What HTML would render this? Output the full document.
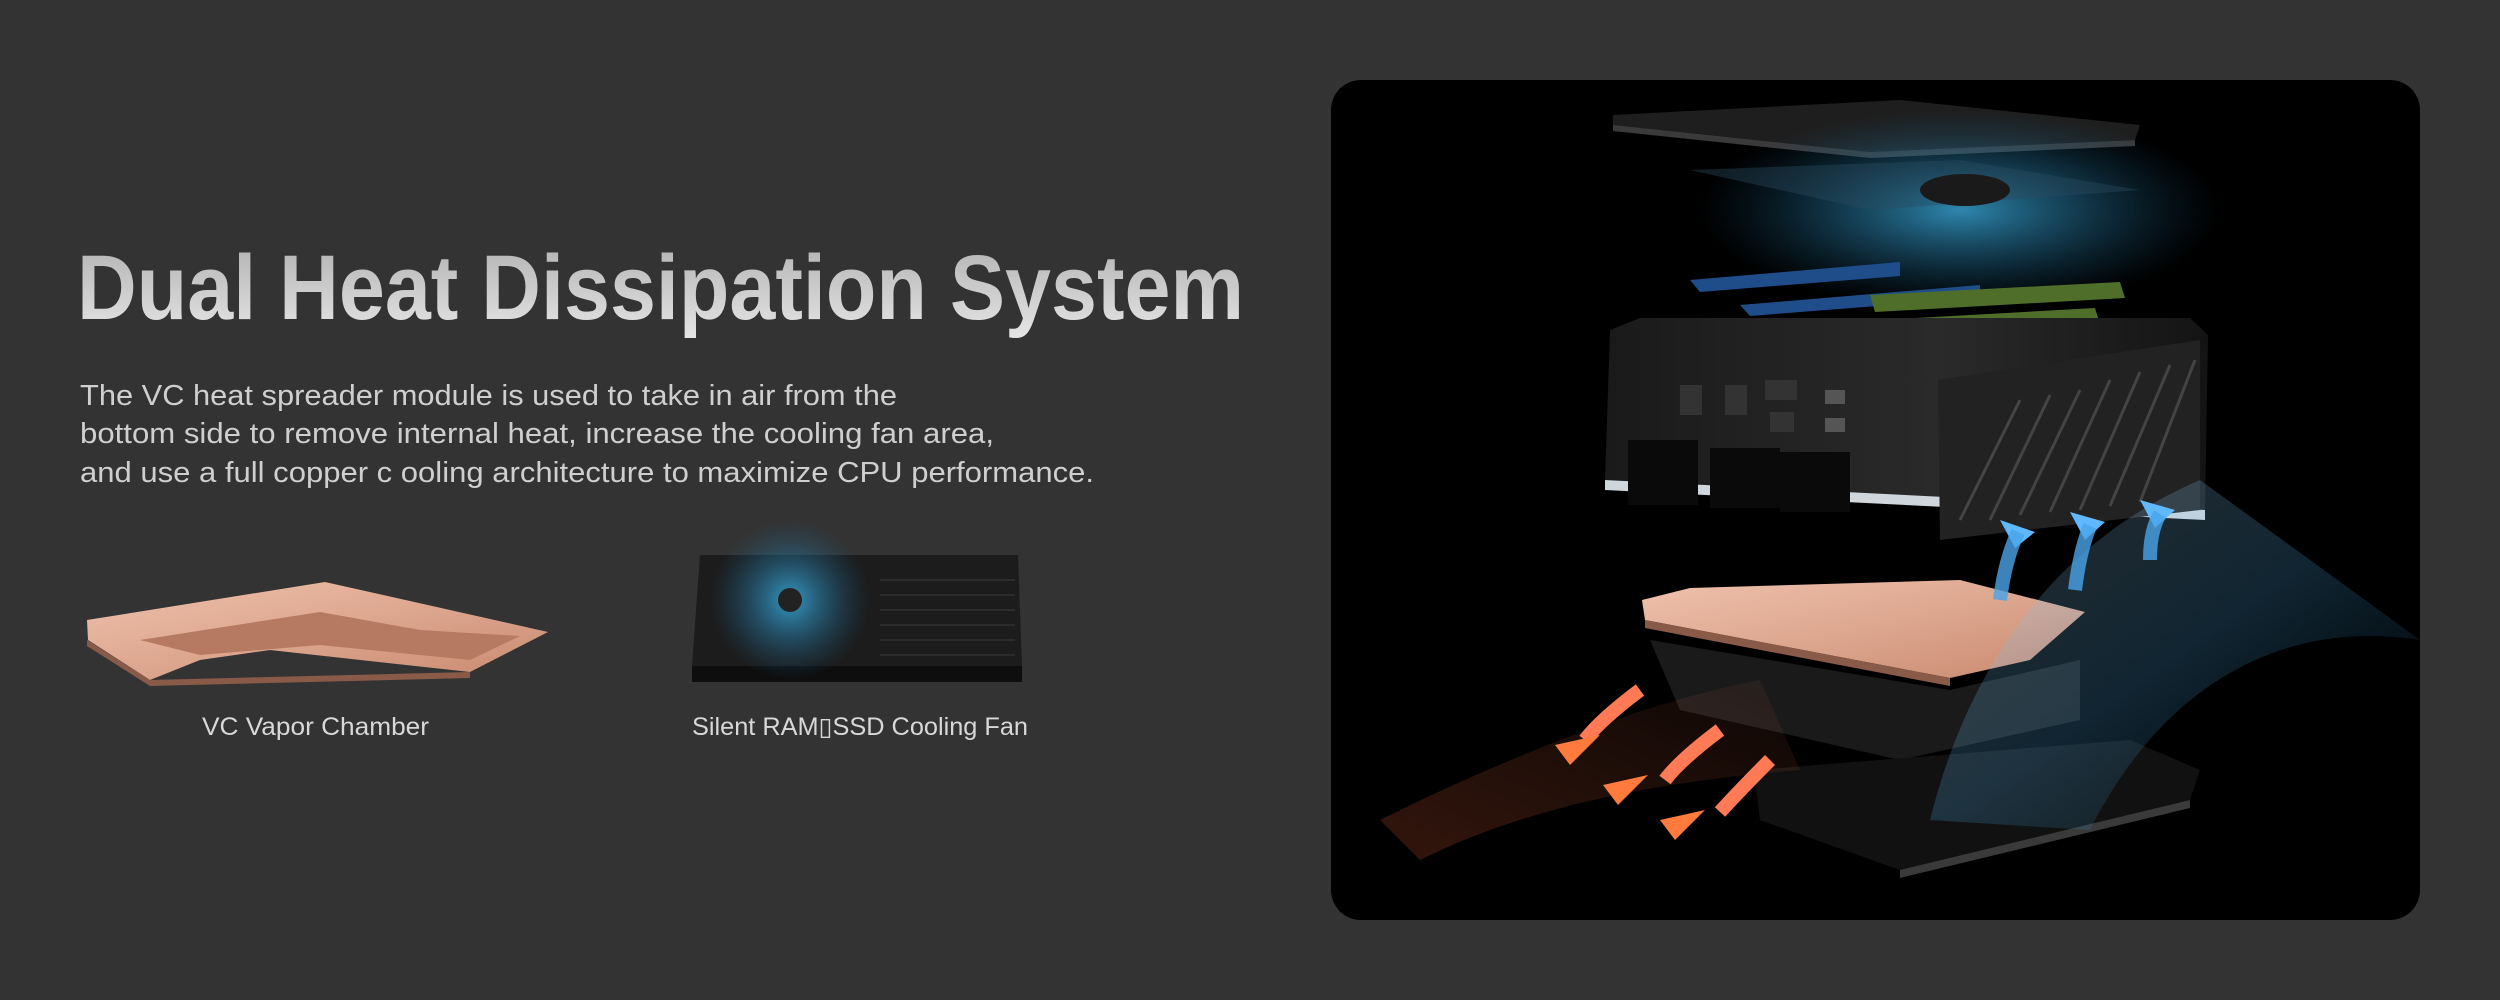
<!DOCTYPE html>
<html><head><meta charset="utf-8"><style>
html,body{margin:0;padding:0;background:#333333;width:2500px;height:1000px;overflow:hidden}
svg{display:block}
</style></head><body>
<svg width="2500" height="1000" viewBox="0 0 2500 1000" xmlns="http://www.w3.org/2000/svg">
<defs>
<linearGradient id="tg" x1="0" x2="0" y1="0" y2="1"><stop offset="0" stop-color="#b0b0b0"/><stop offset="1" stop-color="#e6e6e6"/></linearGradient>
<linearGradient id="cu" x1="0" x2="1" y1="0" y2="1"><stop offset="0" stop-color="#f0c2ad"/><stop offset="1" stop-color="#c98a70"/></linearGradient>
<radialGradient id="fan" cx="0.5" cy="0.5" r="0.5"><stop offset="0" stop-color="#39a7d8" stop-opacity="0.9"/><stop offset="1" stop-color="#1a5a80" stop-opacity="0"/></radialGradient>
<linearGradient id="bl" x1="1" x2="0" y1="1" y2="0"><stop offset="0" stop-color="#1d6fa6" stop-opacity="0"/><stop offset="0.5" stop-color="#4aa8e0" stop-opacity="0.5"/><stop offset="1" stop-color="#cfe8ff" stop-opacity="0.4"/></linearGradient>
<linearGradient id="og" x1="1" x2="0" y1="0" y2="1"><stop offset="0" stop-color="#ff7a50" stop-opacity="0.1"/><stop offset="1" stop-color="#ff6a3a" stop-opacity="0.4"/></linearGradient>
<linearGradient id="box" x1="0" x2="1"><stop offset="0" stop-color="#1a1a1a"/><stop offset="0.55" stop-color="#2a2a2a"/><stop offset="1" stop-color="#141414"/></linearGradient>
</defs>

<text x="77" y="319" textLength="1167" lengthAdjust="spacingAndGlyphs" font-family="Liberation Sans, sans-serif" font-weight="bold" font-size="92" fill="url(#tg)">Dual Heat Dissipation System</text>
<g font-family="Liberation Sans, sans-serif" font-size="29" fill="#cfcfcf">
<text x="80" y="405" textLength="817" lengthAdjust="spacingAndGlyphs">The VC heat spreader module is used to take in air from the</text>
<text x="80" y="443" textLength="914" lengthAdjust="spacingAndGlyphs">bottom side to remove internal heat, increase the cooling fan area,</text>
<text x="80" y="482" textLength="1014" lengthAdjust="spacingAndGlyphs">and use a full copper  c ooling architecture to maximize CPU performance.</text>
</g>
<g font-family="Liberation Sans, sans-serif" font-size="25" fill="#d8d8d8">
<text x="202" y="735" textLength="227" lengthAdjust="spacingAndGlyphs">VC Vapor Chamber</text>
<text x="692" y="735" textLength="336" lengthAdjust="spacingAndGlyphs">Silent RAM&#x25AF;SSD Cooling Fan</text>
</g>

<polygon points="87,620 325,582 548,632 470,672 270,650 200,660 150,680 88,640" fill="url(#cu)"/>
<polygon points="140,640 320,612 420,630 520,636 470,660 320,645 200,655" fill="#b67a62"/>
<polygon points="87,640 150,680 470,672 470,678 150,686 87,646" fill="#8a5a48"/>
<polygon points="700,555 1018,555 1022,666 692,666" fill="#1c1c1c"/>
<rect x="692" y="666" width="330" height="16" fill="#0e0e0e"/>
<g stroke="#2c2c2c" stroke-width="2">
<line x1="880" y1="580" x2="1015" y2="580"/><line x1="880" y1="595" x2="1015" y2="595"/><line x1="880" y1="610" x2="1015" y2="610"/><line x1="880" y1="625" x2="1015" y2="625"/><line x1="880" y1="640" x2="1015" y2="640"/><line x1="880" y1="655" x2="1015" y2="655"/>
</g>
<circle cx="790" cy="600" r="80" fill="url(#fan)"/>
<circle cx="790" cy="600" r="12" fill="#222"/>

<rect x="1331" y="80" width="1089" height="840" rx="30" fill="#000"/>
<polygon points="1613,115 1900,100 2140,125 2135,140 1870,152 1613,125" fill="#1e1e1e"/>
<polygon points="1613,125 1870,152 2135,140 2135,146 1870,158 1613,131" fill="#3a3a3a"/>
<ellipse cx="1960" cy="210" rx="260" ry="100" fill="url(#fan)" opacity="0.9"/>
<polygon points="1690,170 1960,160 2140,190 1870,210" fill="#2a4a60" opacity="0.4"/>
<ellipse cx="1965" cy="190" rx="45" ry="16" fill="#1a1a1a"/>
<polygon points="1690,280 1900,262 1900,276 1700,292" fill="#1e4d8a"/>
<polygon points="1740,305 1980,285 1980,298 1750,316" fill="#1e4d8a"/>
<polygon points="1870,295 2120,282 2125,298 1875,312" fill="#4f6e2a"/>
<polygon points="1845,322 2095,308 2100,324 1850,338" fill="#4f6e2a"/>
<polygon points="1610,330 1640,318 2190,318 2208,335 2205,510 1605,480" fill="url(#box)"/>
<polygon points="1605,480 2205,510 2205,520 1605,490" fill="#cfd6dc"/>
<polygon points="1938,380 2200,340 2200,510 1940,540" fill="#222"/>
<g stroke="#444" stroke-width="3">
<line x1="1960" y1="520" x2="2020" y2="400"/><line x1="1990" y1="520" x2="2050" y2="395"/><line x1="2020" y1="515" x2="2080" y2="390"/><line x1="2050" y1="512" x2="2110" y2="380"/><line x1="2080" y1="510" x2="2140" y2="372"/><line x1="2110" y1="506" x2="2170" y2="365"/><line x1="2140" y1="502" x2="2195" y2="360"/>
</g>
<g fill="#0a0a0a">
<rect x="1628" y="440" width="70" height="65"/><rect x="1710" y="448" width="70" height="60"/><rect x="1780" y="452" width="70" height="60"/>
<rect x="1680" y="385" width="22" height="30" fill="#333"/><rect x="1725" y="385" width="22" height="30" fill="#333"/>
<rect x="1765" y="380" width="32" height="20" fill="#333"/><rect x="1770" y="412" width="24" height="20" fill="#333"/>
<rect x="1825" y="390" width="20" height="14" fill="#555"/><rect x="1825" y="418" width="20" height="14" fill="#555"/>
</g>
<polygon points="1642,600 1690,588 1960,580 2085,612 2030,660 1950,678 1645,620" fill="url(#cu)"/>
<polygon points="1645,620 1950,678 1950,686 1645,628" fill="#8a5a48"/>
<polygon points="1650,640 1950,690 2080,660 2080,720 1900,760 1680,710" fill="#1a1a1a"/>
<polygon points="1754,770 2130,740 2200,770 2190,800 1900,870 1760,820" fill="#111"/>
<polygon points="1900,870 2190,800 2190,808 1900,878" fill="#3a3a3a"/>
<path d="M1930,820 C1970,660 2060,540 2200,480 L2420,640 C2300,620 2170,670 2090,830 Z" fill="url(#bl)" opacity="0.45"/>
<polygon points="2000,520 2035,532 2015,548" fill="#60b8ff"/>
<polygon points="2070,512 2105,522 2085,540" fill="#60b8ff"/>
<polygon points="2140,500 2175,510 2155,528" fill="#60b8ff"/>
<path d="M2000,600 Q2005,560 2018,532 M2075,590 Q2080,550 2090,526 M2150,560 Q2150,530 2160,514" stroke="#4aa4e8" stroke-width="14" fill="none" opacity="0.8"/>
<path d="M1760,680 C1650,700 1500,760 1380,820 L1420,860 C1540,800 1680,780 1800,770 Z" fill="url(#og)" opacity="0.5"/>
<path d="M1640,690 Q1600,720 1585,740" stroke="#ff7a55" stroke-width="14" fill="none"/>
<polygon points="1555,745 1600,735 1570,765" fill="#ff7b3d"/>
<path d="M1720,730 Q1680,760 1665,780" stroke="#ff7a55" stroke-width="14" fill="none"/>
<polygon points="1603,785 1648,775 1618,805" fill="#ff7b3d"/>
<path d="M1770,760 Q1740,790 1720,812" stroke="#ff7a55" stroke-width="14" fill="none"/>
<polygon points="1660,820 1705,810 1675,840" fill="#ff7b3d"/>
</svg>
</body></html>
